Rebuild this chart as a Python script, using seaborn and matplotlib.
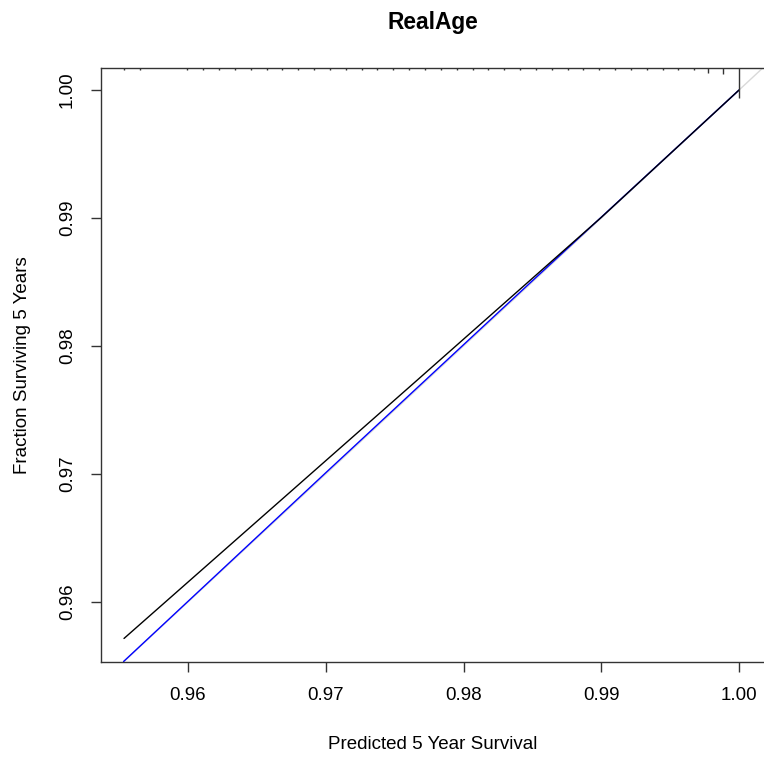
import numpy as np
import seaborn as sns
import matplotlib.pyplot as plt

# Calibration curves
ideal_x = [0.9500, 1.0050]
ideal_y = [0.9500, 1.0050]

apparent_x = [0.95532, 0.9700, 0.9850, 1.0000]
apparent_y = [0.95535, 0.97010, 0.98510, 1.0000]

corrected_x = [0.95535, 0.9766, 0.9900, 1.0000]
corrected_y = [0.95715, 0.97730, 0.99005, 1.0000]

# Spike histogram of predictions along the top (relative counts)
spike_x = [0.95535, 0.95650, 0.95995, 0.96110, 0.96225, 0.96340,
           0.96455, 0.96570, 0.96685, 0.96800, 0.96915, 0.97030, 0.97145,
           0.97260, 0.97375, 0.97490, 0.97605, 0.97720, 0.97835, 0.97950,
           0.98065, 0.98180, 0.98295, 0.98410, 0.98525, 0.98640, 0.98755,
           0.98870, 0.98985, 0.99100, 0.99215, 0.99330, 0.99445, 0.99560,
           0.99675, 0.99775, 0.99885, 1.00000]
spike_n = [1, 1, 1, 1, 1, 1, 1, 1, 1, 1, 1, 1, 1, 1, 1, 1, 1, 1, 1, 1,
           1, 1, 1, 1, 1, 1, 1, 1, 1, 1, 1, 1, 1, 1, 1, 3, 4, 20]

x_ticks = [0.96, 0.97, 0.98, 0.99, 1.00]
y_ticks = [0.96, 0.97, 0.98, 0.99, 1.00]

sns.set_theme(style="ticks")
plt.rcParams['font.family'] = ['Liberation Sans', 'DejaVu Sans']
plt.rcParams['text.color'] = 'black'
plt.rcParams['axes.labelcolor'] = 'black'
plt.rcParams['xtick.labelcolor'] = 'black'
plt.rcParams['ytick.labelcolor'] = 'black'

fig = plt.figure(figsize=(7.64, 7.59), dpi=100)
ax = fig.add_axes([101 / 764, 1 - 662 / 759, 663 / 764, 594 / 759])

xlim = (0.95368, 1.00181)
ylim = (0.95531, 1.00172)

# Ideal line
sns.lineplot(x=ideal_x, y=ideal_y, color="#d9d9d9", lw=1.0, ax=ax,
             estimator=None, sort=False)
# Apparent
sns.lineplot(x=apparent_x, y=apparent_y, color="blue", lw=1.0, ax=ax,
             estimator=None, sort=False)
# Bias-corrected
sns.lineplot(x=corrected_x, y=corrected_y, color="black", lw=1.0, ax=ax,
             estimator=None, sort=False)

# Spikes hanging from the top border
unit = (ylim[1] - ylim[0]) / 594 * 1.5
ax.vlines(spike_x, ylim[1] - np.array(spike_n) * unit, ylim[1],
          color="#333333", lw=1.0)

ax.set_xlim(xlim)
ax.set_ylim(ylim)
ax.set_xticks(x_ticks)
ax.set_xticklabels([f"{t:.2f}" for t in x_ticks])
ax.set_yticks(y_ticks)
ax.set_yticklabels([f"{t:.2f}" for t in y_ticks], rotation=90, va="center")

ax.tick_params(axis="both", length=7, width=1.0, labelsize=13.5, color="#333333")
ax.tick_params(axis="x", pad=11)
ax.tick_params(axis="y", pad=11)

for side in ["left", "bottom", "top"]:
    ax.spines[side].set_color("#333333")
    ax.spines[side].set_linewidth(1.0)
ax.spines["right"].set_visible(False)

ax.set_xlabel("Predicted 5 Year Survival", fontsize=13.5, labelpad=23)
ax.set_ylabel("Fraction Surviving 5 Years", fontsize=13.5, labelpad=20)
ax.set_title("RealAge", fontsize=16.4, fontweight="bold", pad=28)

fig.savefig("out.png", dpi=100)
